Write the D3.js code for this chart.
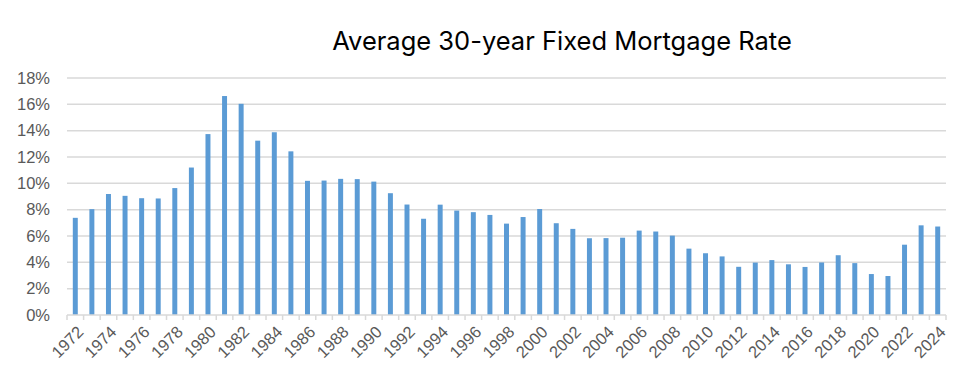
<!DOCTYPE html>
<html>
<head>
<meta charset="utf-8">
<script src="https://cdn.jsdelivr.net/npm/d3@7"></script>
<style>
  body { margin: 0; background: #fff; }
  svg { display: block; }
</style>
</head>
<body>
<div id="chart"></div>
<script>
// data: annual average 30-year fixed mortgage rate (%)
const years = d3.range(1972, 2025).map(String);
const rates = [7.38, 8.04, 9.19, 9.05, 8.87, 8.85, 9.64, 11.20, 13.74, 16.63,
  16.04, 13.24, 13.88, 12.43, 10.19, 10.21, 10.34, 10.32, 10.13, 9.25,
  8.39, 7.31, 8.38, 7.93, 7.81, 7.60, 6.94, 7.44, 8.05, 6.97,
  6.54, 5.83, 5.84, 5.87, 6.41, 6.34, 6.03, 5.04, 4.69, 4.45,
  3.66, 3.98, 4.17, 3.85, 3.65, 3.99, 4.54, 3.94, 3.11, 2.96,
  5.34, 6.81, 6.72];
const yTicks = [0, 2, 4, 6, 8, 10, 12, 14, 16, 18];
const title = 'Average 30-year Fixed Mortgage Rate';

const width = 977, height = 386;
const margin = { top: 78, right: 31, bottom: 71, left: 67 };

const svg = d3.select('#chart').append('svg')
  .attr('width', width)
  .attr('height', height);

const x = d3.scaleBand().domain(years)
  .range([margin.left, width - margin.right])
  .paddingInner(0.7).paddingOuter(0.35);
const y = d3.scaleLinear().domain([0, 18])
  .range([height - margin.bottom, margin.top]);

// title
svg.append('text')
  .attr('x', 562).attr('y', 50)
  .attr('text-anchor', 'middle')
  .style('font-family', 'Inter, "Noto Sans", sans-serif')
  .style('font-size', '25.5px')
  .attr('fill', '#000')
  .text(title);

// gridlines
svg.append('g')
  .selectAll('line')
  .data(yTicks.slice(1))
  .join('line')
  .attr('x1', margin.left).attr('x2', width - margin.right)
  .attr('y1', d => y(d)).attr('y2', d => y(d))
  .attr('stroke', '#d9d9d9')
  .attr('stroke-width', 1.5);

// y axis labels
const yAxis = svg.append('g')
  .attr('transform', 'translate(' + margin.left + ',0)')
  .call(d3.axisLeft(y).tickValues(yTicks).tickSize(0).tickPadding(17).tickFormat(d => d + '%'));
yAxis.select('.domain').remove();
yAxis.selectAll('text')
  .style('font-family', '"Liberation Sans", Arial, sans-serif')
  .style('font-size', '16.5px')
  .attr('fill', '#595959');

// bars
svg.append('g')
  .selectAll('rect')
  .data(rates)
  .join('rect')
  .attr('x', (d, i) => x(years[i]))
  .attr('width', x.bandwidth())
  .attr('y', d => y(d))
  .attr('height', d => y(0) - y(d))
  .attr('fill', '#5b9bd5');

// x axis: line, boundary ticks, rotated labels
const xg = svg.append('g');
const step = x.step();
const bounds = years.map(yr => x(yr) - x.paddingInner() * step / 2).concat([width - margin.right]);
xg.append('line')
  .attr('x1', margin.left).attr('x2', width - margin.right)
  .attr('y1', y(0)).attr('y2', y(0))
  .attr('stroke', '#d9d9d9').attr('stroke-width', 1.5);
xg.selectAll('line.tick')
  .data(bounds)
  .join('line')
  .attr('class', 'tick')
  .attr('x1', d => d).attr('x2', d => d)
  .attr('y1', y(0)).attr('y2', y(0) + 5)
  .attr('stroke', '#d9d9d9').attr('stroke-width', 1.5);
xg.selectAll('text')
  .data(years.filter((yr, i) => i % 2 === 0))
  .join('text')
  .attr('transform', d => 'translate(' + (x(d) + x.bandwidth() / 2 + 5) + ',' + (y(0) + 14) + ') rotate(-45)')
  .attr('text-anchor', 'end')
  .attr('dy', '0.35em')
  .style('font-family', '"Liberation Sans", Arial, sans-serif')
  .style('font-size', '16.5px')
  .attr('fill', '#595959')
  .text(d => d);
</script>
</body>
</html>
